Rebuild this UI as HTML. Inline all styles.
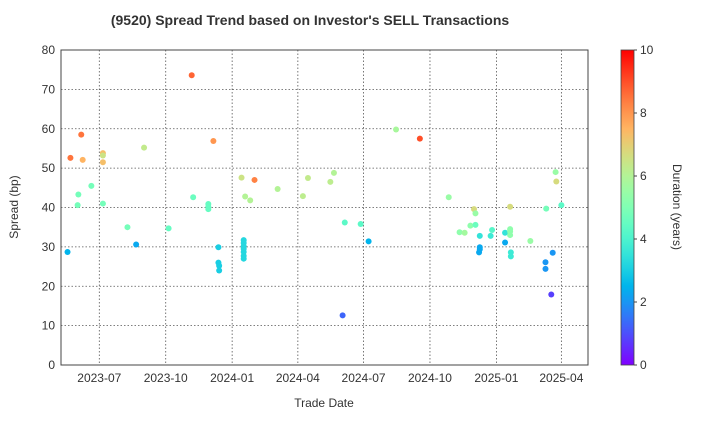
<!DOCTYPE html>
<html><head><meta charset="utf-8"><style>
body{margin:0;background:#fff;font-family:"Liberation Sans",Arial,sans-serif}
svg text{font-family:"Liberation Sans",Arial,sans-serif;fill:#333}
</style></head><body>
<svg id="c" width="720" height="420">
<text x="310" y="25" text-anchor="middle" font-size="14" font-weight="bold" fill="#333">(9520)   Spread Trend based on Investor's SELL Transactions</text>
<text x="0" y="0" transform="translate(18,207) rotate(-90)" text-anchor="middle" font-size="12">Spread (bp)</text>
<text x="324" y="407" text-anchor="middle" font-size="12">Trade Date</text>
<text x="0" y="0" transform="translate(673,207) rotate(90)" text-anchor="middle" font-size="12">Duration (years)</text>
</svg>
<script>
const dates=["2023-05-18","2023-05-22","2023-06-06","2023-06-08","2023-06-02","2023-06-01","2023-06-20","2023-07-06","2023-07-06","2023-07-06","2023-07-06","2023-08-09","2023-08-21","2023-09-01","2023-10-05","2023-11-06","2023-11-08","2023-11-29","2023-11-29","2023-11-29","2023-12-06","2023-12-13","2023-12-13","2023-12-14","2023-12-14","2024-01-14","2024-02-01","2024-01-19","2024-01-26","2024-01-17","2024-01-17","2024-01-17","2024-01-17","2024-01-17","2024-01-17","2024-01-17","2024-03-04","2024-04-08","2024-04-15","2024-05-16","2024-05-21","2024-06-05","2024-06-02","2024-06-27","2024-07-08","2024-08-15","2024-09-17","2024-10-27","2024-11-11","2024-11-18","2024-11-26","2024-12-01","2024-12-03","2024-12-03","2024-12-09","2024-12-09","2024-12-09","2024-12-08","2024-12-26","2024-12-24","2025-01-13","2025-01-13","2025-01-20","2025-01-20","2025-01-20","2025-01-20","2025-01-21","2025-01-21","2025-02-17","2025-03-11","2025-03-10","2025-03-10","2025-03-18","2025-03-20","2025-03-24","2025-03-25","2025-04-01"];
const spreads=[28.7,52.6,58.5,52.1,43.3,40.6,45.5,53.8,53.2,51.5,41.0,35.0,30.6,55.2,34.7,73.6,42.6,40.9,40.2,39.6,56.9,29.9,26.0,25.2,24.0,47.6,47.0,42.8,41.8,31.7,31.0,30.2,29.5,28.7,27.7,27.0,44.7,42.9,47.5,46.5,48.8,36.2,12.6,35.8,31.4,59.8,57.5,42.6,33.7,33.6,35.4,39.6,38.5,35.6,32.8,29.9,29.4,28.6,34.3,32.8,33.6,31.1,40.2,34.5,33.9,33.0,28.6,27.6,31.5,39.7,26.1,24.4,17.9,28.5,49.0,46.6,40.6];
const durations=[2.5,8.5,8.5,7.5,4.8,4.8,4.8,7.3,6.5,7.3,4.8,4.8,2.3,6.3,4.5,8.7,4.6,4.5,4.5,4.5,8,3,3,3,3,6.5,8.3,6,6,3.2,3.2,3.2,3.2,3.2,3.2,3.2,6,6.2,6.3,6.2,6,4.3,1.3,4.3,2.5,5.8,9,5.5,5.3,5.7,5.3,6.7,5.5,4.6,3.5,2.3,2.3,2.3,4.2,3.7,3.5,2.3,6.7,5.3,5.3,5.3,3.7,3.7,5.5,4.8,2,2,0.8,2,5.5,6.7,4.3];
const yTicks=[0,10,20,30,40,50,60,70,80];
const xTicks=["2023-07-01","2023-10-01","2024-01-01","2024-04-01","2024-07-01","2024-10-01","2025-01-01","2025-04-01"];
const xTickLabels=["2023-07","2023-10","2024-01","2024-04","2024-07","2024-10","2025-01","2025-04"];
const cTicks=[0,2,4,6,8,10];
const L=61,R=588,T=50,B=365,NS="http://www.w3.org/2000/svg";
const base=Date.UTC(2023,6,1);
function xs(d){const p=d.split("-");return 99.3+(Date.UTC(+p[0],+p[1]-1,+p[2])-base)/864e5*0.722;}
function ys(v){return B-(v/80)*(B-T);}
function cmap(t){t=Math.max(0,Math.min(1,t));const r=Math.min(1,Math.abs(2*t-0.5)),g=Math.sin(Math.PI*t),b=Math.cos(Math.PI*t/2);return `rgb(${Math.round(r*255)},${Math.round(g*255)},${Math.round(b*255)})`;}
const svg=document.getElementById("c");
function mk(tag,at,parent){const e=document.createElementNS(NS,tag);for(const k in at)e.setAttribute(k,at[k]);(parent||svg).appendChild(e);return e;}
// grid + ticks
yTicks.forEach(v=>{const y=ys(v);
 const g=mk("line",{x1:L,x2:R,y1:y,y2:y,stroke:"#555","stroke-dasharray":"1.5,2","stroke-width":0.8});
 
 
 const t=mk("text",{x:L-6,y:y+4,"text-anchor":"end","font-size":12});t.textContent=v;
 
 
});
xTicks.forEach((d,i)=>{const x=xs(d);
 const g=mk("line",{x1:x,x2:x,y1:T,y2:B,stroke:"#555","stroke-dasharray":"1.5,2","stroke-width":0.8});
 
 
 const t=mk("text",{x:x,y:B+17,"text-anchor":"middle","font-size":12});t.textContent=xTickLabels[i];
 
 
});
const fr=mk("rect",{x:L,y:T,width:R-L,height:B-T,fill:"none",stroke:"#444","stroke-width":1});


dates.forEach((d,i)=>{
 const c=mk("circle",{cx:xs(d),cy:ys(spreads[i]),r:3,fill:cmap(durations[i]/10)});
 
 
});
// colorbar
const defs=mk("defs",{});const lg=mk("linearGradient",{id:"cb",x1:0,y1:1,x2:0,y2:0},defs);
for(let i=0;i<=20;i++)mk("stop",{offset:i/20,"stop-color":cmap(i/20)},lg);
const CX=621,CW=13;
const cb=mk("rect",{x:CX,y:T,width:CW,height:B-T,fill:"url(#cb)",stroke:"#444","stroke-width":0.8});


cTicks.forEach(v=>{const y=B-v/10*(B-T);
 mk("line",{x1:CX+CW,x2:CX+CW+3,y1:y,y2:y,stroke:"#444"});
 const t=mk("text",{x:CX+CW+6,y:y+4,"font-size":12});t.textContent=v;
 
 
});
</script>
</body></html>
